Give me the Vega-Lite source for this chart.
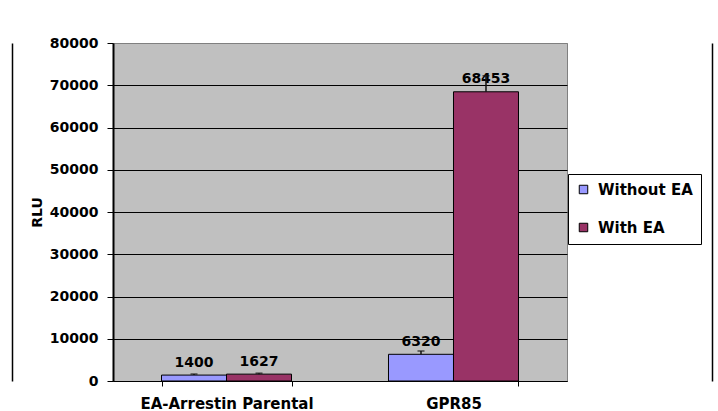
{
  "$schema": "https://vega.github.io/schema/vega-lite/v6.json",
  "width": 454,
  "height": 338,
  "autosize": {"type": "none"},
  "padding": {"left": 113, "top": 43, "right": 151, "bottom": 30},
  "background": "white",
  "config": {
    "view": {"fill": "#C0C0C0", "stroke": "#808080", "strokeWidth": 1},
    "font": "DejaVu Sans"
  },
  "data": {
    "values": [
      {"cell": "EA-Arrestin Parental", "series": "Without EA", "rlu": 1400, "top": 1650},
      {"cell": "EA-Arrestin Parental", "series": "With EA", "rlu": 1627, "top": 1850},
      {"cell": "GPR85", "series": "Without EA", "rlu": 6320, "top": 7100},
      {"cell": "GPR85", "series": "With EA", "rlu": 68453, "top": 72250}
    ]
  },
  "encoding": {
    "x": {
      "field": "cell",
      "type": "nominal",
      "sort": null,
      "scale": {"paddingInner": 0.4273, "paddingOuter": 0.2137},
      "axis": {
        "title": null,
        "domainColor": "black",
        "domainWidth": 1,
        "tickColor": "black",
        "tickSize": 5,
        "tickBand": "extent",
        "labelAngle": 0,
        "labelFont": "DejaVu Sans",
        "labelFontSize": 15,
        "labelFontWeight": "bold",
        "labelColor": "black",
        "labelPadding": 10
      }
    },
    "xOffset": {
      "field": "series",
      "type": "nominal",
      "sort": ["Without EA", "With EA"],
      "scale": {"paddingInner": 0, "paddingOuter": 0}
    }
  },
  "layer": [
    {
      "layer": [
        {
          "mark": {"type": "bar", "stroke": "black", "strokeWidth": 1},
          "encoding": {
            "y": {
              "field": "rlu",
              "type": "quantitative",
              "scale": {"domain": [0, 80000], "nice": false},
              "axis": {
                "orient": "left",
                "values": [0, 10000, 20000, 30000, 40000, 50000, 60000, 70000, 80000],
                "format": "d",
                "title": "RLU",
                "titleFont": "DejaVu Sans",
                "titleFontSize": 14,
                "titleFontWeight": "bold",
                "titleColor": "black",
                "titlePadding": 5,
                "domainColor": "black",
                "domainWidth": 2,
                "tickColor": "black",
                "tickSize": 6,
                "labelFont": "DejaVu Sans",
                "labelFontSize": 14,
                "labelFontWeight": "bold",
                "labelColor": "black",
                "labelPadding": 9,
                "grid": true,
                "gridColor": {"condition": {"test": "datum.value === 80000", "value": "#808080"}, "value": "black"},
                "gridOpacity": 1,
                "gridWidth": 1
              }
            },
            "color": {
              "field": "series",
              "type": "nominal",
              "scale": {"domain": ["Without EA", "With EA"], "range": ["#9999FF", "#993366"]},
              "legend": {
                "orient": "none",
                "legendX": 455,
                "legendY": 131,
                "title": null,
                "strokeColor": "black",
                "fillColor": "white",
                "padding": 8,
                "rowPadding": 22,
                "symbolType": "square",
                "symbolSize": 72,
                "symbolStrokeColor": "black",
                "symbolStrokeWidth": 1,
                "symbolOpacity": 1,
                "labelFont": "DejaVu Sans",
                "labelFontSize": 15,
                "labelFontWeight": "bold",
                "labelColor": "black",
                "labelOffset": 7
              }
            }
          }
        },
        {
          "mark": {"type": "text", "dy": -8.5, "baseline": "alphabetic", "align": "center", "font": "DejaVu Sans", "fontSize": 14, "fontWeight": "bold", "color": "black"},
          "encoding": {
            "y": {"field": "rlu", "type": "quantitative"},
            "text": {"field": "rlu", "type": "quantitative", "format": "d"}
          }
        },
        {
          "mark": {"type": "rule", "color": "#111111", "strokeWidth": 1.5},
          "encoding": {
            "y": {"field": "rlu", "type": "quantitative"},
            "y2": {"field": "top"}
          }
        },
        {
          "mark": {"type": "tick", "color": "#111111", "size": 7, "thickness": 1.5, "orient": "horizontal"},
          "encoding": {
            "y": {"field": "top", "type": "quantitative"}
          }
        }
      ]
    },
    {
      "mark": {"type": "rule", "opacity": 0},
      "encoding": {
        "y": {
          "datum": 0,
          "type": "quantitative",
          "scale": {"domain": [0, 1]},
          "axis": {"orient": "left", "offset": 101, "labels": false, "ticks": false, "grid": false, "title": null, "domainColor": "black", "domainWidth": 1.5}
        }
      }
    },
    {
      "mark": {"type": "rule", "opacity": 0},
      "encoding": {
        "y": {
          "datum": 0,
          "type": "quantitative",
          "scale": {"domain": [0, 1]},
          "axis": {"orient": "right", "offset": 145, "labels": false, "ticks": false, "grid": false, "title": null, "domainColor": "black", "domainWidth": 1.5}
        }
      }
    }
  ],
  "resolve": {"scale": {"y": "independent"}, "axis": {"y": "independent"}}
}
